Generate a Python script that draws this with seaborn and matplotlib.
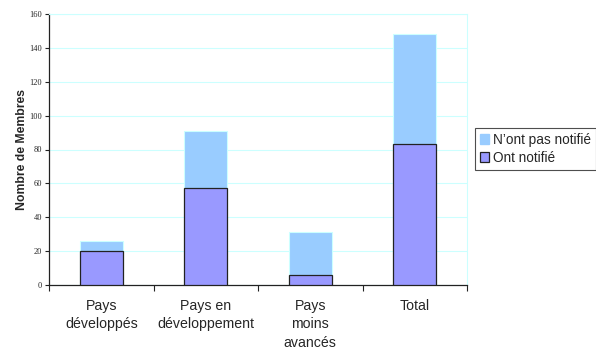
import matplotlib
matplotlib.use("Agg")
import matplotlib.pyplot as plt
import matplotlib.patches as mpatches
import seaborn as sns
import pandas as pd

categories = ["Pays\ndéveloppés", "Pays en\ndéveloppement", "Pays\nmoins\navancés", "Total"]
ont_notifie = [20, 57, 6, 83]
pas_notifie = [6, 34, 25, 65]

totals = [a + b for a, b in zip(ont_notifie, pas_notifie)]
df = pd.DataFrame({"categorie": categories, "notifie": ont_notifie, "total": totals})

sns.set_theme(style="white")
plt.rcParams["font.family"] = ["Liberation Sans", "DejaVu Sans"]

fig = plt.figure(figsize=(5.96, 3.51), dpi=100)
ax = fig.add_axes([49 / 596, 1 - 285 / 351, (467 - 49) / 596, (285 - 14) / 351])

col_light = "#99CCFF"
col_purple = "#9999FF"
grid_col = "#CCFFFF"

sns.barplot(data=df, x="categorie", y="total", color=col_light, saturation=1,
            width=0.41, edgecolor="#CCFFFF", linewidth=0.8, ax=ax, zorder=2)
sns.barplot(data=df, x="categorie", y="notifie", color=col_purple, saturation=1,
            width=0.41, edgecolor="#222222", linewidth=0.9, ax=ax, zorder=3)

ax.set_xlim(-0.5, len(categories) - 0.5)
ax.set_ylim(0, 160)
ax.set_yticks(range(0, 161, 20))
ax.yaxis.grid(True, color=grid_col, linewidth=0.8, zorder=0)
ax.set_axisbelow(True)

for lbl in ax.get_yticklabels():
    lbl.set_fontfamily("Liberation Serif")
    lbl.set_fontsize(6)
ax.tick_params(axis="y", length=3, width=0.8, color="#222222", pad=2, left=True)

ax.set_xticks(range(len(categories)))
ax.set_xticklabels(categories, fontsize=10.2, linespacing=1.4)
ax.tick_params(axis="x", which="major", length=0, pad=10)
ax.set_xticks([i - 0.5 for i in range(len(categories) + 1)], minor=True)
ax.tick_params(axis="x", which="minor", length=4, width=0.8, color="#222222", bottom=True)

ax.set_xlabel("")
ax.set_ylabel("Nombre de Membres", fontsize=8.8, fontweight="bold", labelpad=1)

for side in ("left", "bottom"):
    ax.spines[side].set_color("#222222")
    ax.spines[side].set_linewidth(0.9)
for side in ("top", "right"):
    ax.spines[side].set_color(grid_col)
    ax.spines[side].set_linewidth(0.8)

handles = [
    mpatches.Patch(facecolor=col_light, edgecolor=col_light, label="N’ont pas notifié"),
    mpatches.Patch(facecolor=col_purple, edgecolor="#222222", linewidth=0.9, label="Ont notifié"),
]
leg = fig.legend(handles=handles, loc="upper left", bbox_to_anchor=(475 / 596, 1 - 128 / 351),
                 fontsize=9.8, frameon=True, fancybox=False, handlelength=0.7, handleheight=0.7,
                 handletextpad=0.3, borderpad=0.35, labelspacing=0.3, borderaxespad=0)
leg.get_frame().set_edgecolor("#222222")
leg.get_frame().set_linewidth(0.8)

fig.savefig("out.png", dpi=100)
